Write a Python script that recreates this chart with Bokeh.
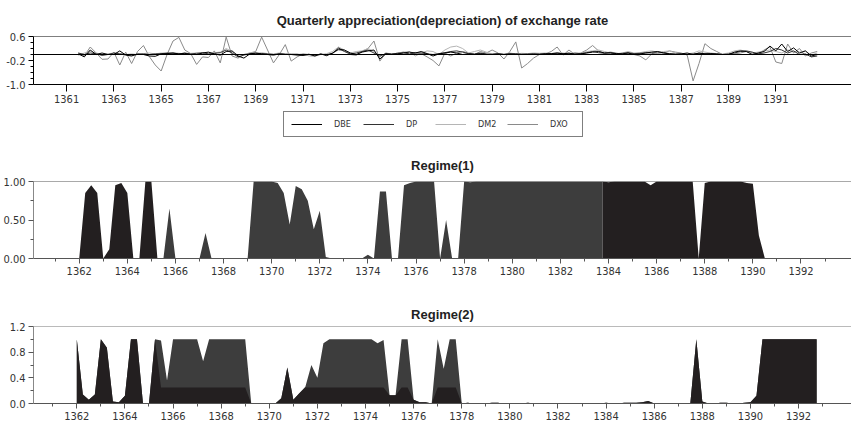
import numpy as np
from bokeh.plotting import figure
from bokeh.models import FixedTicker, Span, Legend, LegendItem, Range1d, PrintfTickFormatter
from bokeh.layouts import column
from bokeh.embed import file_html
from bokeh.resources import INLINE

# ---------------- data ----------------
# Panel 1: quarterly appreciation(depreciation), first quarter 1361.50
p1_start = 1361.5
dbe = [0.02, -0.08,
       0.15, 0.0, 0.05, 0.0,   0.0, 0.12, -0.02, -0.05,   0.02, 0.0, -0.05, -0.06,
       0.02, 0.03, 0.05, 0.02,   0.04, 0.0, 0.0, 0.05,   0.08, 0.02, -0.02, 0.10,
       0.12, -0.05, -0.12, 0.02,   0.05, 0.02, 0.0, -0.02,   0.02, 0.0, 0.0, -0.02,
       -0.03, 0.01, -0.05, 0.02,   -0.04, 0.05, 0.18, 0.15,   0.05, 0.0, 0.08, 0.12,
       0.15, -0.15, 0.02, 0.0,   0.02, 0.05, 0.08, 0.05,   0.10, 0.03, -0.05, 0.02,
       0.05, 0.08, 0.05, 0.0,   0.02, 0.0, 0.03, 0.0,   0.0, 0.02, 0.0, 0.02,
       0.0, 0.01, 0.0, 0.02,   0.0, 0.02, 0.03, 0.05,   0.02, 0.05, 0.0, 0.02,
       0.05, 0.08, 0.10, 0.05,   0.06, 0.03, 0.02, 0.05,   0.0, 0.02, 0.05, 0.08,
       0.10, 0.05, 0.02, 0.0,   0.02, 0.05, 0.0, 0.05,   0.02, 0.03, 0.02, 0.0,
       0.0, 0.08, 0.12, 0.10,   0.0, 0.05, 0.10, 0.28,   0.12, 0.35, 0.10, 0.22,
       0.05, 0.12, -0.05, 0.0]
dp = [0.05, 0.0,
      0.05, 0.02, -0.03, 0.0,   0.05, 0.02, 0.0, -0.02,   0.0, 0.02, 0.0, 0.02,
      0.03, 0.05, 0.04, 0.02,   0.05, 0.02, 0.04, 0.06,   0.02, 0.04, 0.06, 0.15,
      0.05, -0.08, -0.02, 0.03,   0.04, 0.03, 0.02, 0.0,   0.02, 0.01, 0.0, 0.01,
      -0.02, 0.0, -0.01, 0.0,   0.0, 0.03, 0.22, 0.10,   0.02, 0.05, 0.10, 0.15,
      0.05, -0.05, 0.03, 0.02,   0.04, 0.06, 0.02, 0.05,   0.05, 0.02, 0.0, 0.03,
      0.06, 0.10, 0.12, 0.08,   0.03, 0.02, 0.05, 0.02,   0.01, 0.02, 0.0, 0.02,
      0.03, 0.0, 0.02, 0.01,   0.02, 0.03, 0.02, 0.04,   0.03, 0.02, 0.04, 0.03,
      0.06, 0.10, 0.06, 0.04,   0.05, 0.02, 0.04, 0.06,   0.03, 0.04, 0.06, 0.05,
      0.05, 0.06, 0.03, 0.02,   0.02, 0.0, 0.02, 0.04,   0.03, 0.02, 0.01, 0.0,
      0.02, 0.05, 0.10, 0.12,   0.08, 0.02, 0.05, 0.10,   0.20, 0.15, 0.05, 0.12,
      0.0, 0.02, -0.08, -0.05]
dm2 = [-0.03, 0.05,
       0.10, 0.05, 0.0, 0.02,   0.05, 0.03, 0.0, 0.02,   0.0, 0.03, 0.05, 0.02,
       0.05, 0.03, 0.06, 0.04,   0.02, 0.04, 0.05, 0.03,   0.05, 0.06, 0.08, 0.20,
       0.10, -0.02, 0.0, 0.05,   0.04, 0.06, 0.03, 0.02,   0.05, 0.02, 0.03, 0.0,
       0.02, -0.05, -0.06, 0.0,   0.03, 0.10, 0.25, 0.15,   0.05, 0.10, 0.12, 0.20,
       0.10, -0.08, 0.05, 0.02,   0.03, 0.08, 0.10, -0.05,   0.05, 0.12, 0.10, 0.0,
       0.15, 0.25, 0.28, 0.20,   0.05, 0.10, 0.15, 0.08,   0.02, 0.04, 0.02, 0.05,
       0.02, 0.04, 0.03, 0.05,   0.04, 0.05, 0.03, 0.06,   0.05, 0.03, 0.06, 0.04,
       0.10, 0.12, 0.15, 0.10,   0.05, 0.03, 0.05, 0.10,   0.05, 0.06, 0.10, 0.12,
       0.08, 0.10, 0.12, 0.05,   0.03, 0.02, 0.05, 0.12,   0.08, 0.05, 0.03, 0.02,
       0.05, 0.12, 0.15, 0.10,   0.05, 0.08, 0.12, 0.15,   0.10, 0.05, 0.15, 0.10,
       0.08, 0.12, -0.02, 0.05]
dxo = [0.05, -0.05,
       0.25, 0.05, -0.16, -0.15,   0.08, -0.35, 0.08, -0.30,   0.10, 0.30, -0.07, -0.35,
       -0.55, 0.00, 0.45, 0.57,   0.15, 0.03, -0.33, -0.08,   -0.10, 0.12, -0.28, 0.58,
       -0.05, -0.12, 0.00, 0.05,   0.10, 0.58, 0.15, -0.28,   0.00, 0.33, -0.22, -0.08,
       0.02, 0.00, -0.03, 0.02,   -0.02, 0.05, 0.15, 0.12,   0.00, -0.03, 0.10, 0.20,
       0.45, -0.22, 0.05, 0.00,   0.05, 0.08, 0.00, 0.07,   0.03, -0.08, -0.20, -0.38,
       0.05, -0.05, 0.05, 0.10,   0.05, 0.00, 0.10, 0.05,   0.15, 0.05, -0.15, 0.10,
       0.42, -0.45, -0.30, -0.12,   0.00, 0.02, 0.10, 0.25,   -0.02, 0.15, 0.00, 0.05,
       0.15, 0.30, 0.12, 0.05,   0.08, 0.05, 0.00, 0.05,   0.00, -0.05, -0.18, 0.02,
       0.10, 0.05, 0.12, 0.08,   0.05, -0.02, -0.88, -0.30,   0.36, 0.20, 0.10, 0.00,
       0.00, 0.02, 0.05, 0.10,   0.05, 0.00, 0.15, 0.25,   -0.25, -0.30, 0.35, 0.05,
       0.20, -0.05, 0.05, 0.10]
series_names = ["DBE", "DP", "DM2", "DXO"]
p1_xticks = list(range(1361, 1392, 2))
p1_yticks = [-1.0, -0.2, 0.6]
p1_yminor = [-0.8, -0.6, -0.4, 0.0, 0.2, 0.4]

# Regime panels: quarterly smoothed probabilities, first quarter 1362.00
reg_start = 1362.0
regime1 = [0.00, 0.85, 0.95, 0.85,  0.00, 0.12, 0.95, 0.98,  0.85, 0.00, 0.00, 1.00,   # 1362-64
           1.00, 0.00, 0.00, 0.65,  0.00, 0.00, 0.00, 0.00,  0.00, 0.33, 0.00, 0.00,   # 1365-67
           0.00, 0.00, 0.00, 0.00,  0.00, 1.00, 1.00, 1.00,  1.00, 0.98, 0.85, 0.44,   # 1368-70
           0.94, 0.90, 0.75, 0.38,  0.62, 0.02, 0.00, 0.00,  0.00, 0.00, 0.00, 0.00,   # 1371-73
           0.05, 0.00, 0.87, 0.87,  0.00, 0.00, 0.95, 0.98,  1.00, 1.00, 1.00, 1.00,   # 1374-76
           0.00, 0.50, 0.00, 0.00,  1.00, 0.99, 1.00, 1.00,  1.00, 1.00, 1.00, 1.00,   # 1377-79
           1.00, 1.00, 1.00, 1.00,  1.00, 1.00, 1.00, 1.00,  1.00, 1.00, 1.00, 1.00,   # 1380-82
           1.00, 1.00, 1.00, 1.00,  0.99, 1.00, 1.00, 1.00,  1.00, 1.00, 1.00, 0.95,   # 1383-85
           1.00, 1.00, 1.00, 1.00,  1.00, 1.00, 1.00, 0.00,  0.98, 1.00, 1.00, 1.00,   # 1386-88
           1.00, 1.00, 1.00, 0.98,  0.97, 0.30, 0.00, 0.00,  0.00, 0.00, 0.00, 0.00,   # 1389-91
           0.00, 0.00, 0.00, 0.00]                                                     # 1392
regime1_shades = [(1362.0, 1365.25, "dark"), (1365.25, 1383.75, "mid"), (1383.75, 1392.75, "dark")]

regime2 = [1.00, 0.14, 0.06, 0.14,  1.00, 0.87, 0.03, 0.02,  0.12, 1.00, 1.00, 0.00,   # 1362-64
           0.00, 1.00, 0.98, 0.36,  1.00, 1.00, 1.00, 1.00,  1.00, 0.66, 1.00, 1.00,   # 1365-67
           1.00, 1.00, 1.00, 1.00,  1.00, 0.00, 0.00, 0.00,  0.00, 0.00, 0.08, 0.56,   # 1368-70
           0.06, 0.16, 0.26, 0.60,  0.40, 0.94, 1.00, 1.00,  1.00, 1.00, 1.00, 1.00,   # 1371-73
           1.00, 1.00, 0.94, 0.99,  0.13, 0.13, 1.00, 1.00,  0.06, 0.02, 0.02, 0.00,   # 1374-76
           1.00, 0.54, 1.00, 1.00,  0.00, 0.01, 0.00, 0.00,  0.00, 0.01, 0.01, 0.00,   # 1377-79
           0.00, 0.00, 0.00, 0.01,  0.00, 0.00, 0.00, 0.00,  0.00, 0.00, 0.00, 0.00,   # 1380-82
           0.00, 0.00, 0.00, 0.00,  0.01, 0.00, 0.00, 0.01,  0.01, 0.01, 0.02, 0.04,   # 1383-85
           0.00, 0.00, 0.00, 0.00,  0.00, 0.00, 0.00, 1.00,  0.03, 0.00, 0.00, 0.01,   # 1386-88
           0.01, 0.00, 0.00, 0.01,  0.02, 0.12, 1.00, 1.00,  1.00, 1.00, 1.00, 1.00,   # 1389-91
           1.00, 1.00, 1.00, 1.00]                                                     # 1392
# spans where the dark layer stops at a lower level (lighter layer shows above)
regime2_caps = [(1365.5, 1369.0, 0.25), (1371.5, 1375.75, 0.25), (1376.75, 1377.75, 0.25)]
reg_xticks = list(range(1362, 1393, 2))
reg_xminor = list(range(1361, 1394, 2))

# ---------------- styling ----------------
FONT = "Liberation Sans Narrow, DejaVu Sans Condensed, sans-serif"
TFONT = "Liberation Sans"
DARK = "#231f20"
MID = "#3d3d3d"
LINE_COLORS = ["#000000", "#333333", "#b5b5b5", "#8a8a8a"]
W = 851


def base_fig(h, xr, yr, left, top, bottom, title, standoff):
    p = figure(width=W, height=h, x_range=Range1d(*xr), y_range=Range1d(*yr),
               output_backend="svg", toolbar_location=None,
               min_border_left=left, min_border_right=0,
               min_border_top=top, min_border_bottom=bottom)
    p.outline_line_color = None
    p.xgrid.visible = False
    p.ygrid.visible = False
    p.background_fill_color = None
    p.border_fill_color = None
    p.title.text = title
    p.title.text_font = TFONT
    p.title.text_font_style = "bold"
    p.title.text_font_size = "13px"
    p.title.text_color = "#222222"
    p.title.align = "center"
    p.title.standoff = standoff
    for ax in (p.xaxis[0], p.yaxis[0]):
        ax.major_label_text_font = FONT
        ax.major_label_text_font_size = "11px"
        ax.major_label_text_color = "#333333"
        ax.major_tick_in = 0
        ax.minor_tick_in = 0
    return p


# ---- panel 1 ----
p1 = base_fig(110, (1359.6, 1394.2), (-1.0, 0.6), 27, 36, 26,
              "Quarterly appreciation(depreciation) of exchange rate", 18)
t1 = p1_start + 0.25 * np.arange(len(dxo))
series = [dbe, dp, dm2, dxo]
for vals, col in reversed(list(zip(series, LINE_COLORS))):
    p1.line(t1, vals, line_color=col, line_width=1)
p1.add_layout(Span(location=0.0, dimension="width", line_color="black", line_width=1))
p1.add_layout(Span(location=0.6, dimension="width", line_color="black", line_width=1))
p1.yaxis.ticker = FixedTicker(ticks=p1_yticks, minor_ticks=p1_yminor)
p1.yaxis.formatter = PrintfTickFormatter(format="%.1f")
p1.xaxis.ticker = FixedTicker(ticks=p1_xticks, minor_ticks=[])
p1.xaxis.formatter = PrintfTickFormatter(format="%d")
p1.yaxis.major_tick_out = 5
p1.yaxis.minor_tick_out = 3
p1.yaxis.major_label_standoff = 3
p1.xaxis.major_tick_out = 7
p1.xaxis.major_label_standoff = 3
p1.xaxis.axis_line_color = "black"
p1.yaxis.axis_line_color = "black"

# ---- legend strip under panel 1 (series kept out of view, only the key shows) ----
pl = figure(width=W, height=28, x_range=Range1d(1359.6, 1394.2), y_range=Range1d(10.0, 11.0),
            output_backend="svg", toolbar_location=None,
            x_axis_location=None, y_axis_location=None,
            min_border_left=0, min_border_right=0, min_border_top=0, min_border_bottom=0)
pl.outline_line_color = None
pl.xgrid.visible = False
pl.ygrid.visible = False
pl.border_fill_color = None
pl.background_fill_color = None
items = []
for name, vals, col in zip(series_names, series, LINE_COLORS):
    r = pl.line(t1, vals, line_color=col, line_width=1)
    items.append(LegendItem(label=name, renderers=[r]))
legend = Legend(items=items, orientation="horizontal", location=(250, 1), margin=0,
                padding=7, spacing=4, glyph_width=31, glyph_height=8,
                label_standoff=12, label_width=25, label_height=8,
                label_text_font=FONT, label_text_font_size="9px",
                label_text_color="#333333",
                border_line_color="black", border_line_width=1,
                background_fill_alpha=0)
pl.add_layout(legend)

# ---- panel 2 ----
p2 = base_fig(145, (1360.1, 1394.1), (0.0, 1.0), 28, 43, 25, "Regime(1)", 17)
t_reg = reg_start + 0.25 * np.arange(len(regime1))
r1 = np.array(regime1)
shade_col = {"dark": DARK, "mid": MID}
for s, e, shade in regime1_shades:
    m = (t_reg >= s) & (t_reg <= e)
    p2.varea(x=t_reg[m], y1=0.0, y2=r1[m], fill_color=shade_col[shade], fill_alpha=1.0)
p2.add_layout(Span(location=1.0, dimension="width", line_color="#555555", line_width=1))
p2.yaxis.ticker = FixedTicker(ticks=[0.0, 0.5, 1.0], minor_ticks=[0.25, 0.75])
p2.yaxis.formatter = PrintfTickFormatter(format="%.2f")

# ---- panel 3 ----
p3 = base_fig(145, (1360.2, 1394.2), (0.0, 1.2), 25, 43, 25, "Regime(2)", 9)
t_reg2 = reg_start + 0.25 * np.arange(len(regime2))
r2 = np.array(regime2)
r2_dark = r2.copy()
for s, e, cap in regime2_caps:
    m = (t_reg2 >= s) & (t_reg2 <= e)
    r2_dark[m] = np.minimum(r2[m], cap)
p3.varea(x=t_reg2, y1=0.0, y2=r2, fill_color=MID, fill_alpha=1.0)
p3.varea(x=t_reg2, y1=0.0, y2=r2_dark, fill_color=DARK, fill_alpha=1.0)
p3.add_layout(Span(location=1.2, dimension="width", line_color="#777777", line_width=1))
p3.yaxis.ticker = FixedTicker(ticks=[0.0, 0.4, 0.8, 1.2], minor_ticks=[0.2, 0.6, 1.0])
p3.yaxis.formatter = PrintfTickFormatter(format="%.1f")

for p in (p2, p3):
    p.xaxis.ticker = FixedTicker(ticks=reg_xticks, minor_ticks=reg_xminor)
    p.xaxis.formatter = PrintfTickFormatter(format="%d")
    p.xaxis.major_tick_out = 5
    p.xaxis.minor_tick_out = 3
    p.xaxis.major_label_standoff = 3
    p.yaxis.major_tick_out = 5
    p.yaxis.minor_tick_out = 3
    p.yaxis.major_label_standoff = 3
    p.xaxis.axis_line_color = "#555555"
    p.yaxis.axis_line_color = "#888888"
    p.xaxis.major_tick_line_color = "#555555"
    p.xaxis.minor_tick_line_color = "#555555"
    p.yaxis.major_tick_line_color = "#555555"
    p.yaxis.minor_tick_line_color = "#555555"

page = column(p1, pl, p2, p3, spacing=0)
open("out.html", "w").write(file_html(page, INLINE))
